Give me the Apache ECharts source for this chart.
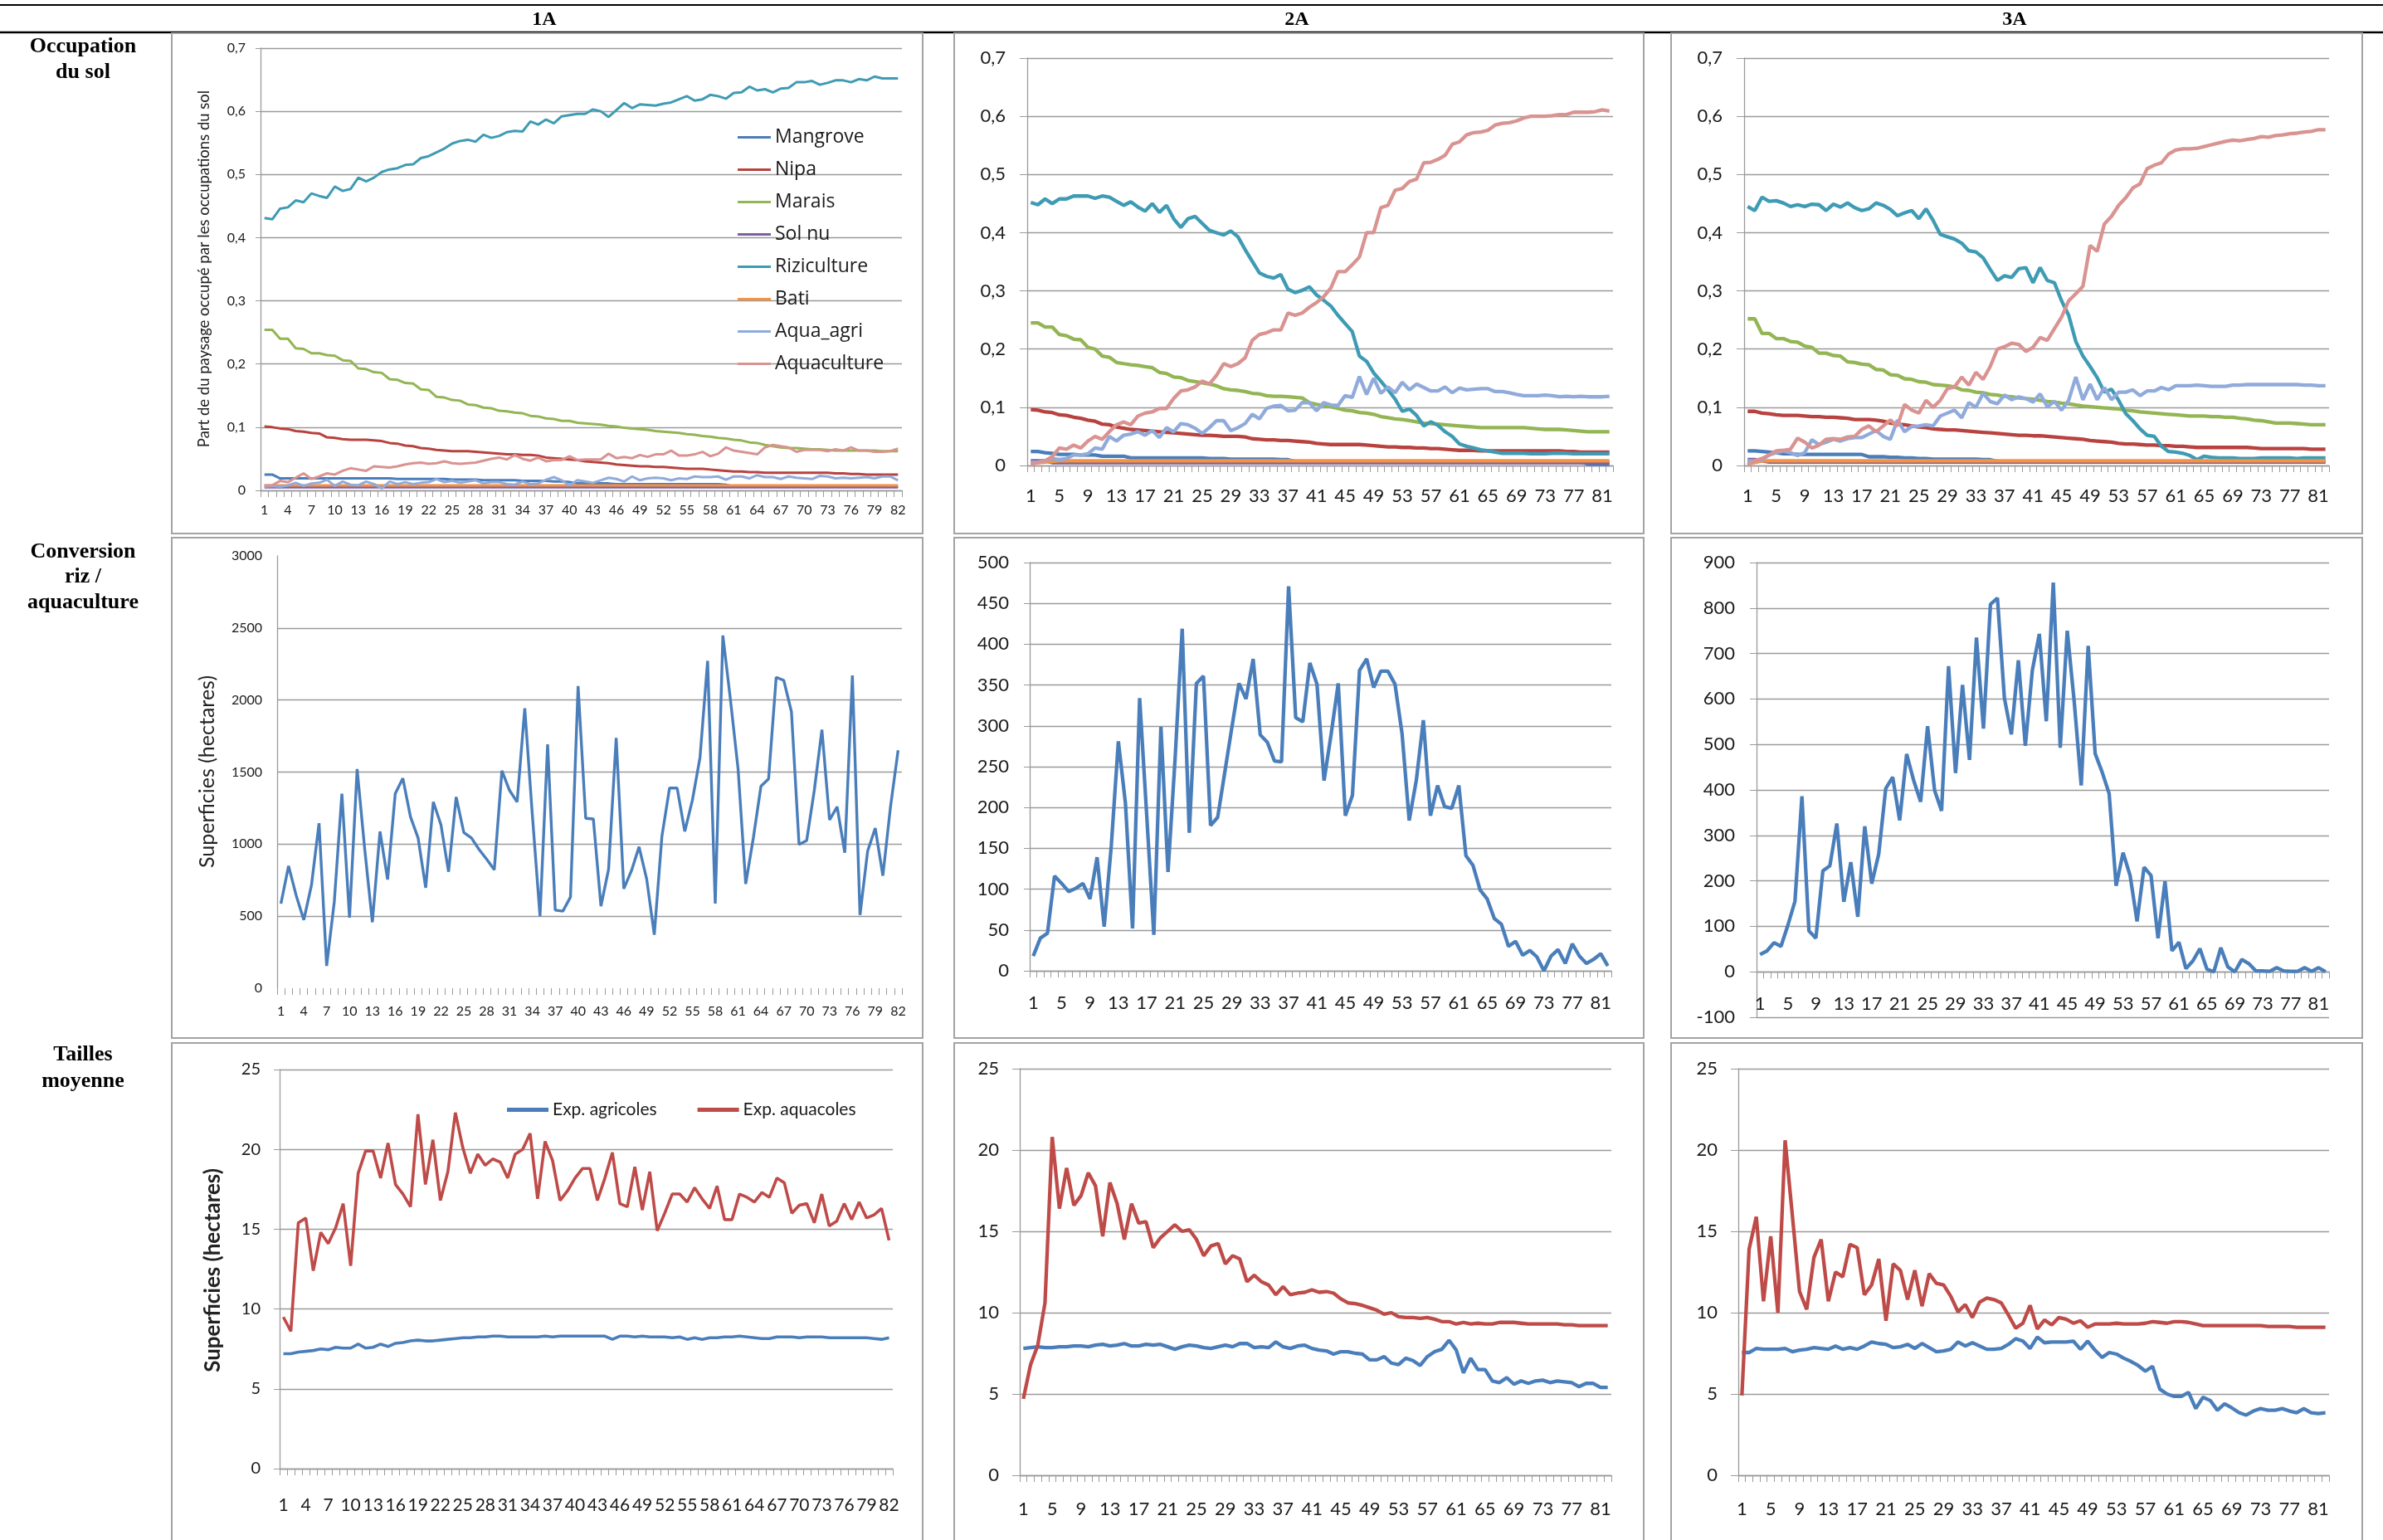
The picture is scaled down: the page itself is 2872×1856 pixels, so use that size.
<!DOCTYPE html>
<html><head><meta charset="utf-8">
<script src="https://cdn.jsdelivr.net/npm/echarts@6/dist/echarts.min.js"></script>
<style>html,body{margin:0;padding:0;background:#fff}#c{width:2872px;height:1856px}</style>
</head><body><div id="c"></div>
<script>
// ---------- DATA ----------
const categories = ['1','2','3','4','5','6','7','8','9','10','11','12','13','14','15','16','17','18','19','20',
'21','22','23','24','25','26','27','28','29','30','31','32','33','34','35','36','37','38','39','40',
'41','42','43','44','45','46','47','48','49','50','51','52','53','54','55','56','57','58','59','60',
'61','62','63','64','65','66','67','68','69','70','71','72','73','74','75','76','77','78','79','80','81','82'];

const columnTitles = ['1A','2A','3A'];
const rowTitles = [['Occupation','du sol'],['Conversion','riz /','aquaculture'],['Tailles','moyenne']];
const landNames = ['Mangrove','Nipa','Marais','Sol nu','Riziculture','Bati','Aqua_agri','Aquaculture'];
const sizeNames = ['Exp. agricoles','Exp. aquacoles'];

// Land use 1A
const mangrove1A = [0.025,0.025,0.019,0.019,0.019,0.019,0.019,0.019,0.019,0.019,
0.019,0.019,0.019,0.019,0.019,0.019,0.019,0.018,0.018,0.018,
0.018,0.018,0.018,0.018,0.017,0.017,0.017,0.017,0.016,0.016,
0.016,0.016,0.016,0.015,0.015,0.015,0.015,0.014,0.014,0.013,
0.011,0.011,0.011,0.011,0.011,0.010,0.010,0.010,0.010,0.010,
0.010,0.010,0.010,0.010,0.010,0.010,0.010,0.010,0.010,0.009,
0.006,0.006,0.006,0.006,0.006,0.006,0.006,0.006,0.006,0.006,
0.006,0.006,0.006,0.006,0.006,0.006,0.006,0.006,0.006,0.006,
0.006,0.006];
const nipa1A = [0.101,0.100,0.098,0.097,0.094,0.093,0.091,0.090,0.084,0.083,
0.081,0.080,0.080,0.080,0.079,0.078,0.075,0.074,0.071,0.070,
0.067,0.066,0.064,0.063,0.062,0.062,0.062,0.061,0.060,0.059,
0.058,0.057,0.057,0.056,0.056,0.055,0.052,0.051,0.050,0.049,
0.048,0.046,0.045,0.044,0.043,0.041,0.040,0.039,0.038,0.038,
0.037,0.037,0.036,0.035,0.034,0.034,0.034,0.033,0.032,0.031,
0.030,0.030,0.029,0.029,0.028,0.028,0.028,0.028,0.028,0.028,
0.028,0.028,0.028,0.027,0.027,0.026,0.026,0.025,0.025,0.025,
0.025,0.025];
const marais1A = [0.254,0.254,0.240,0.240,0.225,0.224,0.217,0.217,0.214,0.213,
0.206,0.205,0.193,0.192,0.187,0.186,0.176,0.175,0.170,0.169,
0.160,0.159,0.148,0.147,0.143,0.142,0.136,0.135,0.131,0.130,
0.126,0.125,0.123,0.122,0.118,0.117,0.114,0.113,0.110,0.110,
0.107,0.106,0.105,0.104,0.102,0.101,0.099,0.098,0.097,0.096,
0.094,0.093,0.092,0.091,0.089,0.088,0.086,0.085,0.083,0.082,
0.080,0.079,0.076,0.075,0.072,0.070,0.068,0.067,0.067,0.066,
0.065,0.065,0.064,0.063,0.063,0.063,0.063,0.063,0.063,0.062,
0.062,0.062];
const solnu1A = [0.005,0.005,0.005,0.005,0.005,0.005,0.005,0.005,0.005,0.005,
0.005,0.005,0.005,0.005,0.005,0.005,0.005,0.005,0.005,0.005,
0.005,0.005,0.005,0.005,0.005,0.005,0.005,0.005,0.005,0.005,
0.005,0.005,0.005,0.005,0.005,0.005,0.005,0.005,0.005,0.005,
0.005,0.005,0.005,0.005,0.005,0.005,0.005,0.005,0.005,0.005,
0.005,0.005,0.005,0.005,0.005,0.005,0.005,0.005,0.005,0.005,
0.005,0.005,0.005,0.005,0.005,0.005,0.005,0.005,0.005,0.005,
0.005,0.005,0.005,0.005,0.005,0.005,0.005,0.005,0.005,0.005,
0.005,0.005];
const riz1A = [0.431,0.429,0.446,0.448,0.459,0.456,0.470,0.466,0.463,0.481,
0.474,0.477,0.495,0.489,0.495,0.504,0.508,0.510,0.515,0.516,
0.526,0.529,0.535,0.541,0.549,0.553,0.555,0.552,0.563,0.558,
0.561,0.567,0.569,0.568,0.584,0.579,0.587,0.581,0.592,0.594,
0.596,0.596,0.603,0.600,0.591,0.602,0.613,0.605,0.611,0.610,
0.609,0.612,0.614,0.619,0.624,0.617,0.619,0.626,0.624,0.620,
0.629,0.630,0.639,0.633,0.635,0.630,0.636,0.637,0.646,0.646,
0.648,0.642,0.645,0.649,0.649,0.646,0.651,0.649,0.655,0.652,
0.652,0.652];
const bati1A = [0.008,0.008,0.008,0.008,0.008,0.008,0.008,0.008,0.008,0.008,
0.008,0.008,0.008,0.008,0.008,0.008,0.008,0.008,0.008,0.008,
0.008,0.008,0.008,0.008,0.008,0.008,0.008,0.008,0.008,0.008,
0.008,0.008,0.008,0.008,0.008,0.008,0.008,0.008,0.008,0.008,
0.008,0.008,0.008,0.008,0.008,0.008,0.008,0.008,0.008,0.008,
0.008,0.008,0.008,0.008,0.008,0.008,0.008,0.008,0.008,0.008,
0.008,0.008,0.008,0.008,0.008,0.008,0.008,0.008,0.008,0.008,
0.008,0.008,0.008,0.008,0.008,0.008,0.008,0.008,0.008,0.008,
0.008,0.008];
const aquaAgri1A = [0.006,0.007,0.006,0.008,0.012,0.007,0.011,0.012,0.017,0.007,
0.014,0.009,0.008,0.014,0.010,0.003,0.014,0.010,0.013,0.010,
0.012,0.013,0.018,0.013,0.015,0.012,0.014,0.016,0.011,0.013,
0.013,0.010,0.009,0.014,0.010,0.011,0.017,0.021,0.016,0.008,
0.016,0.014,0.012,0.016,0.020,0.018,0.014,0.022,0.016,0.019,
0.020,0.019,0.016,0.019,0.018,0.022,0.021,0.021,0.022,0.017,
0.022,0.022,0.019,0.024,0.021,0.021,0.018,0.022,0.020,0.019,
0.018,0.023,0.022,0.019,0.020,0.019,0.020,0.021,0.019,0.022,
0.022,0.016];
const aqua1A = [0.008,0.008,0.015,0.013,0.020,0.027,0.018,0.022,0.027,0.025,
0.031,0.035,0.033,0.031,0.038,0.037,0.036,0.038,0.041,0.043,
0.044,0.042,0.043,0.046,0.043,0.042,0.043,0.044,0.047,0.050,
0.052,0.049,0.056,0.050,0.047,0.052,0.046,0.048,0.048,0.054,
0.048,0.049,0.049,0.049,0.058,0.051,0.053,0.051,0.056,0.053,
0.057,0.057,0.063,0.055,0.055,0.057,0.061,0.054,0.058,0.068,
0.063,0.061,0.059,0.057,0.068,0.072,0.070,0.068,0.061,0.064,
0.064,0.064,0.062,0.065,0.063,0.068,0.063,0.063,0.061,0.061,
0.062,0.066];

// Land use 2A
const mangrove2A = [0.024,0.024,0.022,0.021,0.019,0.019,0.019,0.018,0.018,0.018,
0.016,0.016,0.016,0.016,0.013,0.013,0.013,0.013,0.013,0.013,
0.013,0.013,0.013,0.013,0.013,0.012,0.012,0.012,0.011,0.011,
0.011,0.011,0.011,0.011,0.011,0.010,0.010,0.007,0.007,0.007,
0.007,0.007,0.007,0.007,0.007,0.007,0.007,0.007,0.007,0.007,
0.007,0.007,0.007,0.007,0.007,0.007,0.007,0.007,0.007,0.007,
0.007,0.007,0.007,0.007,0.007,0.007,0.007,0.007,0.007,0.007,
0.007,0.007,0.007,0.007,0.007,0.007,0.007,0.007,0.002,0.002,
0.002,0.002];
const nipa2A = [0.096,0.095,0.092,0.091,0.087,0.086,0.083,0.081,0.078,0.076,
0.071,0.070,0.066,0.064,0.062,0.061,0.060,0.059,0.058,0.057,
0.056,0.055,0.054,0.053,0.052,0.052,0.051,0.050,0.050,0.050,
0.049,0.046,0.045,0.044,0.044,0.043,0.043,0.042,0.041,0.040,
0.038,0.037,0.036,0.036,0.036,0.036,0.036,0.035,0.034,0.033,
0.032,0.032,0.031,0.031,0.030,0.030,0.029,0.029,0.028,0.027,
0.026,0.026,0.026,0.025,0.025,0.025,0.025,0.025,0.025,0.025,
0.025,0.025,0.025,0.025,0.025,0.024,0.024,0.023,0.023,0.023,
0.023,0.023];
const marais2A = [0.245,0.245,0.238,0.238,0.225,0.223,0.217,0.216,0.203,0.200,
0.188,0.186,0.177,0.175,0.173,0.172,0.170,0.168,0.160,0.158,
0.152,0.151,0.146,0.144,0.142,0.140,0.137,0.132,0.130,0.129,
0.127,0.124,0.123,0.120,0.119,0.119,0.118,0.117,0.116,0.108,
0.105,0.103,0.101,0.098,0.095,0.094,0.091,0.090,0.088,0.084,
0.082,0.080,0.079,0.077,0.075,0.073,0.072,0.071,0.070,0.069,
0.068,0.067,0.066,0.065,0.065,0.065,0.065,0.065,0.065,0.065,
0.064,0.063,0.062,0.062,0.062,0.061,0.060,0.059,0.058,0.058,
0.058,0.058];
const solnu2A = [0.008,0.008,0.008,0.005,0.005,0.005,0.005,0.005,0.005,0.005,
0.005,0.005,0.005,0.005,0.005,0.005,0.005,0.005,0.005,0.005,
0.005,0.005,0.005,0.005,0.005,0.005,0.005,0.005,0.005,0.005,
0.005,0.005,0.005,0.005,0.005,0.005,0.005,0.005,0.005,0.005,
0.005,0.005,0.005,0.005,0.005,0.005,0.005,0.005,0.005,0.005,
0.005,0.005,0.005,0.005,0.005,0.005,0.005,0.005,0.005,0.005,
0.005,0.005,0.005,0.005,0.005,0.005,0.005,0.005,0.005,0.005,
0.005,0.005,0.005,0.005,0.005,0.005,0.005,0.005,0.005,0.005,
0.005,0.005];
const riz2A = [0.452,0.448,0.458,0.450,0.458,0.458,0.463,0.463,0.463,0.459,
0.463,0.461,0.454,0.447,0.453,0.444,0.437,0.450,0.435,0.447,
0.424,0.409,0.424,0.428,0.416,0.404,0.400,0.396,0.403,0.393,
0.371,0.351,0.331,0.325,0.322,0.328,0.303,0.297,0.301,0.307,
0.293,0.284,0.274,0.258,0.244,0.230,0.188,0.179,0.159,0.145,
0.130,0.114,0.093,0.097,0.086,0.068,0.075,0.069,0.058,0.050,
0.037,0.033,0.030,0.027,0.025,0.023,0.021,0.021,0.021,0.021,
0.020,0.020,0.020,0.021,0.021,0.021,0.020,0.020,0.020,0.020,
0.020,0.020];
const bati2A = [0.005,0.005,0.006,0.007,0.008,0.008,0.008,0.008,0.008,0.008,
0.008,0.008,0.008,0.008,0.008,0.008,0.008,0.008,0.008,0.008,
0.008,0.008,0.008,0.008,0.008,0.008,0.008,0.008,0.008,0.008,
0.008,0.008,0.008,0.008,0.008,0.008,0.008,0.008,0.008,0.008,
0.008,0.008,0.008,0.008,0.008,0.008,0.008,0.008,0.008,0.008,
0.008,0.008,0.008,0.008,0.008,0.008,0.008,0.008,0.008,0.008,
0.008,0.008,0.008,0.008,0.008,0.008,0.008,0.008,0.008,0.008,
0.008,0.008,0.008,0.008,0.008,0.008,0.008,0.008,0.008,0.008,
0.008,0.008];
const aquaAgri2A = [0.005,0.006,0.008,0.012,0.010,0.012,0.018,0.018,0.020,0.030,
0.028,0.050,0.042,0.052,0.054,0.058,0.052,0.060,0.048,0.065,
0.058,0.072,0.070,0.064,0.055,0.065,0.077,0.077,0.060,0.065,
0.072,0.088,0.080,0.098,0.102,0.103,0.094,0.095,0.108,0.108,
0.094,0.108,0.104,0.103,0.120,0.117,0.153,0.122,0.150,0.124,
0.135,0.125,0.143,0.130,0.140,0.134,0.128,0.128,0.135,0.125,
0.133,0.130,0.131,0.132,0.132,0.127,0.127,0.125,0.122,0.120,
0.120,0.120,0.121,0.120,0.118,0.119,0.118,0.119,0.118,0.118,
0.118,0.119];
const aqua2A = [0.002,0.005,0.008,0.015,0.030,0.028,0.035,0.030,0.042,0.050,
0.045,0.058,0.070,0.075,0.070,0.085,0.090,0.092,0.098,0.098,
0.115,0.128,0.130,0.135,0.145,0.140,0.155,0.175,0.170,0.175,
0.185,0.215,0.225,0.228,0.233,0.233,0.262,0.258,0.262,0.272,
0.280,0.290,0.305,0.333,0.333,0.345,0.358,0.400,0.400,0.443,
0.447,0.473,0.476,0.488,0.492,0.520,0.521,0.526,0.533,0.552,
0.556,0.568,0.572,0.573,0.576,0.585,0.588,0.589,0.592,0.597,
0.600,0.600,0.600,0.601,0.603,0.603,0.607,0.607,0.607,0.608,
0.611,0.609];

// Land use 3A
const mangrove3A = [0.025,0.025,0.024,0.023,0.022,0.020,0.020,0.019,0.019,0.019,
0.019,0.019,0.019,0.019,0.019,0.019,0.019,0.015,0.015,0.015,
0.014,0.014,0.013,0.013,0.012,0.012,0.011,0.011,0.011,0.011,
0.011,0.011,0.011,0.010,0.010,0.007,0.007,0.007,0.007,0.007,
0.007,0.007,0.007,0.007,0.007,0.007,0.007,0.007,0.007,0.007,
0.007,0.007,0.007,0.007,0.007,0.007,0.007,0.007,0.007,0.007,
0.007,0.007,0.007,0.007,0.007,0.007,0.007,0.007,0.007,0.007,
0.007,0.007,0.007,0.007,0.007,0.007,0.007,0.007,0.007,0.007,
0.007,0.007];
const nipa3A = [0.093,0.093,0.090,0.089,0.087,0.086,0.086,0.086,0.085,0.084,
0.084,0.083,0.083,0.082,0.081,0.079,0.079,0.079,0.078,0.076,
0.073,0.071,0.070,0.068,0.066,0.065,0.063,0.062,0.061,0.061,
0.060,0.059,0.058,0.057,0.056,0.055,0.054,0.053,0.052,0.052,
0.051,0.051,0.050,0.049,0.048,0.047,0.046,0.045,0.043,0.042,
0.041,0.040,0.038,0.037,0.037,0.036,0.035,0.035,0.034,0.034,
0.033,0.033,0.032,0.031,0.031,0.031,0.031,0.031,0.031,0.031,
0.031,0.030,0.029,0.029,0.029,0.029,0.029,0.029,0.029,0.028,
0.028,0.028];
const marais3A = [0.252,0.252,0.227,0.227,0.218,0.218,0.213,0.212,0.205,0.203,
0.193,0.193,0.189,0.188,0.178,0.177,0.174,0.173,0.165,0.164,
0.156,0.155,0.149,0.148,0.144,0.143,0.139,0.138,0.137,0.135,
0.130,0.129,0.126,0.125,0.122,0.121,0.119,0.118,0.116,0.115,
0.114,0.112,0.110,0.109,0.107,0.106,0.104,0.102,0.101,0.100,
0.099,0.098,0.097,0.095,0.094,0.092,0.091,0.090,0.089,0.088,
0.087,0.086,0.085,0.085,0.085,0.084,0.084,0.083,0.083,0.081,
0.080,0.078,0.077,0.075,0.073,0.073,0.073,0.072,0.071,0.070,
0.070,0.070];
const solnu3A = [0.010,0.010,0.008,0.006,0.006,0.006,0.006,0.006,0.006,0.006,
0.006,0.006,0.006,0.006,0.006,0.006,0.006,0.006,0.006,0.006,
0.006,0.006,0.006,0.006,0.006,0.006,0.006,0.006,0.006,0.006,
0.006,0.006,0.006,0.006,0.006,0.006,0.006,0.006,0.006,0.006,
0.006,0.006,0.006,0.006,0.006,0.006,0.006,0.006,0.006,0.006,
0.006,0.006,0.006,0.006,0.006,0.006,0.006,0.006,0.006,0.006,
0.006,0.006,0.006,0.006,0.006,0.006,0.006,0.006,0.006,0.006,
0.006,0.006,0.006,0.006,0.006,0.006,0.006,0.006,0.006,0.006,
0.006,0.006];
const riz3A = [0.445,0.438,0.461,0.454,0.455,0.451,0.445,0.448,0.445,0.449,
0.448,0.438,0.449,0.444,0.451,0.443,0.438,0.441,0.451,0.447,
0.440,0.429,0.434,0.438,0.424,0.441,0.421,0.397,0.393,0.389,
0.382,0.369,0.367,0.357,0.337,0.318,0.326,0.323,0.338,0.340,
0.314,0.340,0.318,0.314,0.283,0.258,0.213,0.188,0.170,0.151,
0.126,0.131,0.112,0.089,0.077,0.063,0.052,0.050,0.033,0.024,
0.023,0.021,0.017,0.010,0.016,0.014,0.013,0.013,0.013,0.012,
0.012,0.012,0.013,0.013,0.013,0.013,0.013,0.012,0.013,0.013,
0.013,0.013];
const bati3A = [0.003,0.005,0.008,0.008,0.008,0.008,0.008,0.008,0.008,0.008,
0.008,0.008,0.008,0.008,0.008,0.008,0.008,0.008,0.008,0.008,
0.008,0.008,0.008,0.008,0.008,0.008,0.008,0.008,0.008,0.008,
0.008,0.008,0.008,0.008,0.008,0.008,0.008,0.008,0.008,0.008,
0.008,0.008,0.008,0.008,0.008,0.008,0.008,0.008,0.008,0.008,
0.008,0.008,0.008,0.008,0.008,0.008,0.008,0.008,0.008,0.008,
0.008,0.008,0.008,0.008,0.008,0.008,0.008,0.008,0.008,0.008,
0.008,0.008,0.008,0.008,0.008,0.008,0.008,0.008,0.008,0.008,
0.008,0.008];
const aquaAgri3A = [0.008,0.008,0.010,0.018,0.022,0.025,0.022,0.017,0.022,0.044,
0.036,0.040,0.045,0.042,0.046,0.048,0.048,0.054,0.060,0.050,
0.045,0.078,0.058,0.067,0.068,0.070,0.068,0.085,0.090,0.095,
0.082,0.108,0.100,0.124,0.110,0.106,0.121,0.113,0.118,0.115,
0.109,0.123,0.101,0.110,0.095,0.112,0.152,0.113,0.140,0.113,
0.134,0.113,0.126,0.126,0.130,0.120,0.128,0.128,0.134,0.130,
0.137,0.137,0.137,0.138,0.137,0.136,0.136,0.136,0.138,0.138,
0.139,0.139,0.139,0.139,0.139,0.139,0.139,0.139,0.138,0.138,
0.137,0.137];
const aqua3A = [0.001,0.008,0.012,0.018,0.025,0.026,0.028,0.047,0.040,0.030,
0.035,0.045,0.046,0.045,0.049,0.050,0.062,0.068,0.058,0.068,
0.078,0.068,0.105,0.095,0.090,0.112,0.100,0.112,0.132,0.135,
0.152,0.138,0.160,0.148,0.170,0.200,0.204,0.210,0.208,0.196,
0.203,0.220,0.215,0.235,0.255,0.283,0.295,0.308,0.378,0.368,
0.415,0.428,0.447,0.460,0.477,0.484,0.510,0.516,0.520,0.535,
0.542,0.544,0.544,0.545,0.548,0.551,0.554,0.557,0.559,0.558,
0.560,0.562,0.565,0.564,0.567,0.568,0.570,0.571,0.573,0.574,
0.577,0.577];

// Conversion riz / aquaculture (hectares)
const conv1A = [587,849,644,474,713,1145,155,599,1350,490,
1521,963,458,1088,754,1350,1457,1190,1043,697,
1293,1134,808,1327,1081,1043,963,895,822,1510,
1373,1293,1942,1200,500,1692,542,535,633,2097,
1179,1175,569,826,1737,690,815,981,758,371,
1054,1389,1389,1088,1305,1601,2272,587,2448,2000,
1520,724,1043,1402,1453,2158,2136,1919,997,1025,
1373,1794,1168,1259,940,2170,508,952,1111,781,
1259,1651];
const conv2A = [18,40,46,116,107,97,101,107,88,139,
54,153,281,205,52,334,190,44,299,121,
260,419,169,352,361,178,188,243,298,352,
333,382,289,280,257,256,471,310,305,377,
351,233,290,352,190,215,368,382,347,367,
367,351,290,184,233,307,190,227,201,199,
227,141,129,99,88,64,57,30,36,19,
25,17,0,18,26,9,33,18,9,14,
21,6];
const conv3A = [38,46,64,56,103,155,386,90,74,222,
233,326,154,241,121,320,194,259,403,428,
333,479,421,374,540,399,354,672,437,631,
466,735,535,808,822,602,522,685,497,663,
743,551,856,493,750,594,410,717,480,439,
392,189,262,212,111,230,212,74,199,46,
65,7,24,51,6,0,53,11,0,27,
18,2,2,1,9,2,1,1,9,1,
9,0];

// Tailles moyennes (hectares)
const agri1A = [7.2,7.2,7.3,7.35,7.4,7.5,7.45,7.6,7.55,7.55,
7.8,7.55,7.6,7.8,7.65,7.85,7.9,8.0,8.05,8.0,
8.0,8.05,8.1,8.15,8.2,8.2,8.25,8.25,8.3,8.3,
8.25,8.25,8.25,8.25,8.25,8.3,8.25,8.3,8.3,8.3,
8.3,8.3,8.3,8.3,8.1,8.3,8.3,8.25,8.3,8.25,
8.25,8.25,8.2,8.25,8.1,8.2,8.1,8.2,8.2,8.25,
8.25,8.3,8.25,8.2,8.15,8.15,8.25,8.25,8.25,8.2,
8.25,8.25,8.25,8.2,8.2,8.2,8.2,8.2,8.2,8.15,
8.1,8.2];
const aquac1A = [9.5,8.6,15.4,15.7,12.4,14.8,14.1,15.1,16.6,12.7,
18.5,19.9,19.9,18.2,20.4,17.8,17.2,16.4,22.2,17.8,
20.6,16.8,18.6,22.3,20.1,18.5,19.7,19.0,19.4,19.2,
18.2,19.7,20.0,21.0,16.9,20.5,19.3,16.8,17.4,18.2,
18.8,18.8,16.8,18.2,19.8,16.6,16.4,18.9,16.2,18.6,
14.9,16.0,17.2,17.2,16.7,17.6,16.9,16.3,17.7,15.6,
15.6,17.2,17.0,16.7,17.3,17.0,18.2,17.9,16.0,16.5,
16.6,15.4,17.2,15.2,15.5,16.6,15.6,16.7,15.7,15.9,
16.3,14.3];
const agri2A = [7.8,7.85,7.9,7.85,7.85,7.9,7.9,7.95,7.95,7.9,
8.0,8.05,7.95,8.0,8.1,7.95,7.95,8.05,8.0,8.05,
7.9,7.75,7.9,8.0,7.95,7.85,7.8,7.9,8.0,7.9,
8.1,8.1,7.85,7.9,7.85,8.2,7.9,7.8,7.95,8.0,
7.8,7.7,7.65,7.45,7.6,7.6,7.5,7.45,7.1,7.1,
7.3,6.9,6.8,7.2,7.05,6.75,7.3,7.6,7.75,8.3,
7.7,6.3,7.2,6.5,6.5,5.8,5.7,6.0,5.6,5.8,
5.65,5.8,5.85,5.7,5.8,5.75,5.7,5.45,5.65,5.65,
5.4,5.4];
const aquac2A = [4.7,6.8,8.0,10.6,20.8,16.4,18.9,16.6,17.2,18.6,
17.8,14.7,18.0,16.7,14.5,16.7,15.5,15.6,14.0,14.6,
15.0,15.4,15.0,15.1,14.5,13.5,14.1,14.25,13.0,13.5,
13.3,11.9,12.3,11.9,11.7,11.1,11.6,11.1,11.2,11.25,
11.4,11.25,11.3,11.2,10.85,10.6,10.55,10.45,10.3,10.15,
9.9,10.0,9.75,9.7,9.7,9.65,9.7,9.6,9.45,9.45,
9.3,9.4,9.3,9.35,9.3,9.3,9.4,9.4,9.4,9.35,
9.3,9.3,9.3,9.3,9.3,9.25,9.25,9.2,9.2,9.2,
9.2,9.2];
const agri3A = [7.55,7.55,7.8,7.75,7.75,7.75,7.8,7.6,7.7,7.75,
7.85,7.8,7.75,7.95,7.75,7.85,7.75,7.95,8.2,8.1,
8.05,7.85,7.9,8.05,7.8,8.1,7.85,7.6,7.65,7.75,
8.2,7.95,8.15,7.95,7.75,7.75,7.8,8.05,8.4,8.25,
7.8,8.5,8.15,8.2,8.2,8.2,8.25,7.75,8.25,7.7,
7.25,7.55,7.45,7.2,7.0,6.75,6.4,6.7,5.3,5.0,
4.85,4.85,5.1,4.1,4.8,4.6,4.0,4.4,4.15,3.85,
3.7,3.95,4.1,4.0,4.0,4.1,3.95,3.85,4.1,3.85,
3.8,3.85];
const aquac3A = [4.9,13.9,15.9,10.7,14.7,10.0,20.6,16.0,11.3,10.2,
13.4,14.5,10.7,12.5,12.2,14.2,14.0,11.1,11.7,13.3,
9.5,13.0,12.6,10.8,12.6,10.4,12.4,11.8,11.7,11.0,
10.05,10.5,9.7,10.65,10.9,10.8,10.6,9.85,9.05,9.35,
10.45,9.0,9.55,9.25,9.7,9.6,9.35,9.5,9.1,9.3,
9.3,9.3,9.35,9.3,9.3,9.3,9.35,9.45,9.4,9.35,
9.45,9.45,9.4,9.3,9.2,9.2,9.2,9.2,9.2,9.2,
9.2,9.2,9.2,9.15,9.15,9.15,9.15,9.1,9.1,9.1,
9.1,9.1];

// ---------- STYLE / LAYOUT ----------
const landColors = ['#4a7ebb','#b8423f','#93b553','#7d60a0','#3e9bb4','#f69240','#90abdb','#d99391'];
const BLUE = '#4a7ebb', RED = '#be4b48';
const GRAY = '#9a9a9a';
const TXT = '#1a1a1a';
const FONT = 'Lato';

const landData = [
  [mangrove1A,nipa1A,marais1A,solnu1A,riz1A,bati1A,aquaAgri1A,aqua1A],
  [mangrove2A,nipa2A,marais2A,solnu2A,riz2A,bati2A,aquaAgri2A,aqua2A],
  [mangrove3A,nipa3A,marais3A,solnu3A,riz3A,bati3A,aquaAgri3A,aqua3A]
];
const convData = [conv1A, conv2A, conv3A];
const sizeData = [[agri1A,aquac1A],[agri2A,aquac2A],[agri3A,aquac3A]];

const grids = [
  {left:314, top:58, width:773, height:533},
  {left:1238, top:70, width:706, height:491},
  {left:2102, top:70, width:705, height:491},
  {left:334, top:670, width:753, height:521},
  {left:1241, top:678, width:701, height:492},
  {left:2117, top:678, width:690, height:548},
  {left:337, top:1289, width:739, height:481},
  {left:1229, top:1288, width:713, height:490},
  {left:2095, top:1288, width:712, height:490}
];
const commaFmt = v => v === 0 ? '0' : v.toFixed(1).replace('.', ',');
const plainFmt = v => String(v);
const cfg = [
  {min:0,max:0.7,iv:0.1,fmt:commaFmt,yfs:16,ym:18,yt:6,xfs:16,xi:2,xm:16,lw:3},
  {min:0,max:0.7,iv:0.1,fmt:commaFmt,yfs:22,ym:26,yt:9,xfs:22,xi:3,xm:26,lw:4.3},
  {min:0,max:0.7,iv:0.1,fmt:commaFmt,yfs:22,ym:26,yt:9,xfs:22,xi:3,xm:26,lw:4.3},
  {min:0,max:3000,iv:500,fmt:plainFmt,yfs:16,ym:18,yt:0,xfs:16,xi:2,xm:20,lw:3.4,noXLine:true,hideEnds:true},
  {min:0,max:500,iv:50,fmt:plainFmt,yfs:22,ym:25,yt:7,xfs:22,xi:3,xm:28,lw:4.3},
  {min:-100,max:900,iv:100,fmt:plainFmt,yfs:22,ym:26,yt:8,xfs:22,xi:3,xm:28,lw:4.3,zeroShift:true},
  {min:0,max:25,iv:5,fmt:plainFmt,yfs:20,ym:23,yt:7,xfs:21,xi:2,xm:34,lw:3.6},
  {min:0,max:25,iv:5,fmt:plainFmt,yfs:22,ym:25,yt:9,xfs:22,xi:3,xm:30,lw:4.3},
  {min:0,max:25,iv:5,fmt:plainFmt,yfs:22,ym:25,yt:9,xfs:22,xi:3,xm:30,lw:4.3}
];

const xAxes = [], yAxes = [];
cfg.forEach((c, k) => {
  // for the -100..900 panel, place the category axis on the value 0 line
  const off = c.zeroShift ? -grids[k].height * (0 - c.min) / (c.max - c.min) : 0;
  xAxes.push({
    type:'category', gridIndex:k, data:categories, boundaryGap:true, position:'bottom', offset:off,
    axisLine:{show:!c.noXLine, onZero:false, lineStyle:{color:GRAY, width:1.3}},
    axisTick:{show:true, interval:0, length:8, lineStyle:{color:GRAY, width:1}},
    axisLabel:{interval:c.xi, fontSize:c.xfs, fontFamily:FONT, color:TXT, margin:c.xm},
    splitLine:{show:false}
  });
  const splitColor = c.hideEnds ? ['rgba(0,0,0,0)',GRAY,GRAY,GRAY,GRAY,GRAY,'rgba(0,0,0,0)'] : GRAY;
  yAxes.push({
    type:'value', gridIndex:k, min:c.min, max:c.max, interval:c.iv,
    axisLine:{show:true, lineStyle:{color:GRAY, width:1.3}},
    axisTick:{show:c.yt > 0, length:c.yt, lineStyle:{color:GRAY}},
    axisLabel:{fontSize:c.yfs, fontFamily:FONT, color:TXT, margin:c.ym, formatter:c.fmt},
    splitLine:{show:true, lineStyle:{color:splitColor, width:1.4}}
  });
});

const series = [];
for (let p = 0; p < 3; p++) {
  landData[p].forEach((d, s) => {
    series.push({type:'line', name:landNames[s], xAxisIndex:p, yAxisIndex:p, data:d,
      symbol:'none', lineStyle:{width:cfg[p].lw, color:landColors[s]}, itemStyle:{color:landColors[s]}});
  });
}
for (let p = 0; p < 3; p++) {
  series.push({type:'line', name:'Conversion ' + columnTitles[p], xAxisIndex:3+p, yAxisIndex:3+p,
    data:convData[p], symbol:'none', lineStyle:{width:cfg[3+p].lw, color:BLUE}, itemStyle:{color:BLUE}});
}
for (let p = 0; p < 3; p++) {
  [BLUE, RED].forEach((col, s) => {
    series.push({type:'line', name:sizeNames[s], xAxisIndex:6+p, yAxisIndex:6+p, data:sizeData[p][s],
      symbol:'none', lineStyle:{width:cfg[6+p].lw, color:col}, itemStyle:{color:col}});
  });
}

// ---------- TABLE FRAME / TEXTS ----------
const graphic = [];
graphic.push({type:'line', shape:{x1:0,y1:6,x2:2872,y2:6}, style:{stroke:'#000', lineWidth:2}});
graphic.push({type:'line', shape:{x1:0,y1:39,x2:2872,y2:39}, style:{stroke:'#000', lineWidth:2.5}});
const colX = [656, 1563, 2428];
columnTitles.forEach((t, i) => graphic.push({type:'text', x:colX[i], y:24,
  style:{text:t, fontFamily:'Liberation Serif', fontWeight:'bold', fontSize:24, fill:'#000', textAlign:'center', textVerticalAlign:'middle'}}));
const rowLineY = [[56,87],[665,695,726],[1271,1303]];
rowTitles.forEach((lines, r) => lines.forEach((t, j) => graphic.push({type:'text', x:100, y:rowLineY[r][j],
  style:{text:t, fontFamily:'Liberation Serif', fontWeight:'bold', fontSize:26, fill:'#000', textAlign:'center', textVerticalAlign:'middle'}})));
const panelX = [[207,905],[1150,831],[2014,833]];
const panelY = [[40,603],[648,603],[1257,620]];
panelY.forEach(py => panelX.forEach(px => graphic.push({type:'rect', shape:{x:px[0], y:py[0], width:px[1], height:py[1]},
  style:{fill:'none', stroke:'#a3a3a3', lineWidth:2}, silent:true})));
const yTitles = [
  {t:'Part de du paysage occupé par les occupations du sol', x:246, y:324, fs:18.5, fw:'normal'},
  {t:'Superficies (hectares)', x:250, y:930, fs:25, fw:'normal'},
  {t:'Superficies (hectares)', x:257, y:1531, fs:26, fw:'bold'}
];
yTitles.forEach(o => graphic.push({type:'text', x:o.x, y:o.y, rotation:Math.PI/2,
  style:{text:o.t, fontFamily:FONT, fontSize:o.fs, fontWeight:o.fw, fill:'#222', textAlign:'center', textVerticalAlign:'middle'}}));

const option = {
  animation:false,
  backgroundColor:'#fff',
  textStyle:{fontFamily:FONT},
  grid:grids,
  xAxis:xAxes,
  yAxis:yAxes,
  legend:[
    {data:landNames, orient:'vertical', left:884, top:149, padding:5, itemWidth:40, itemHeight:3, itemGap:16, icon:'rect',
     textStyle:{fontSize:23, fontFamily:'Open Sans', color:TXT}},
    {data:sizeNames, orient:'horizontal', left:606, top:1322, padding:5, itemWidth:50, itemHeight:5, itemGap:49, icon:'rect',
     textStyle:{fontSize:21, fontFamily:FONT, color:TXT}}
  ],
  series:series,
  graphic:graphic
};
const chart = echarts.init(document.getElementById('c'), null, {renderer:'canvas'});
chart.setOption(option);
</script>
</body></html>
